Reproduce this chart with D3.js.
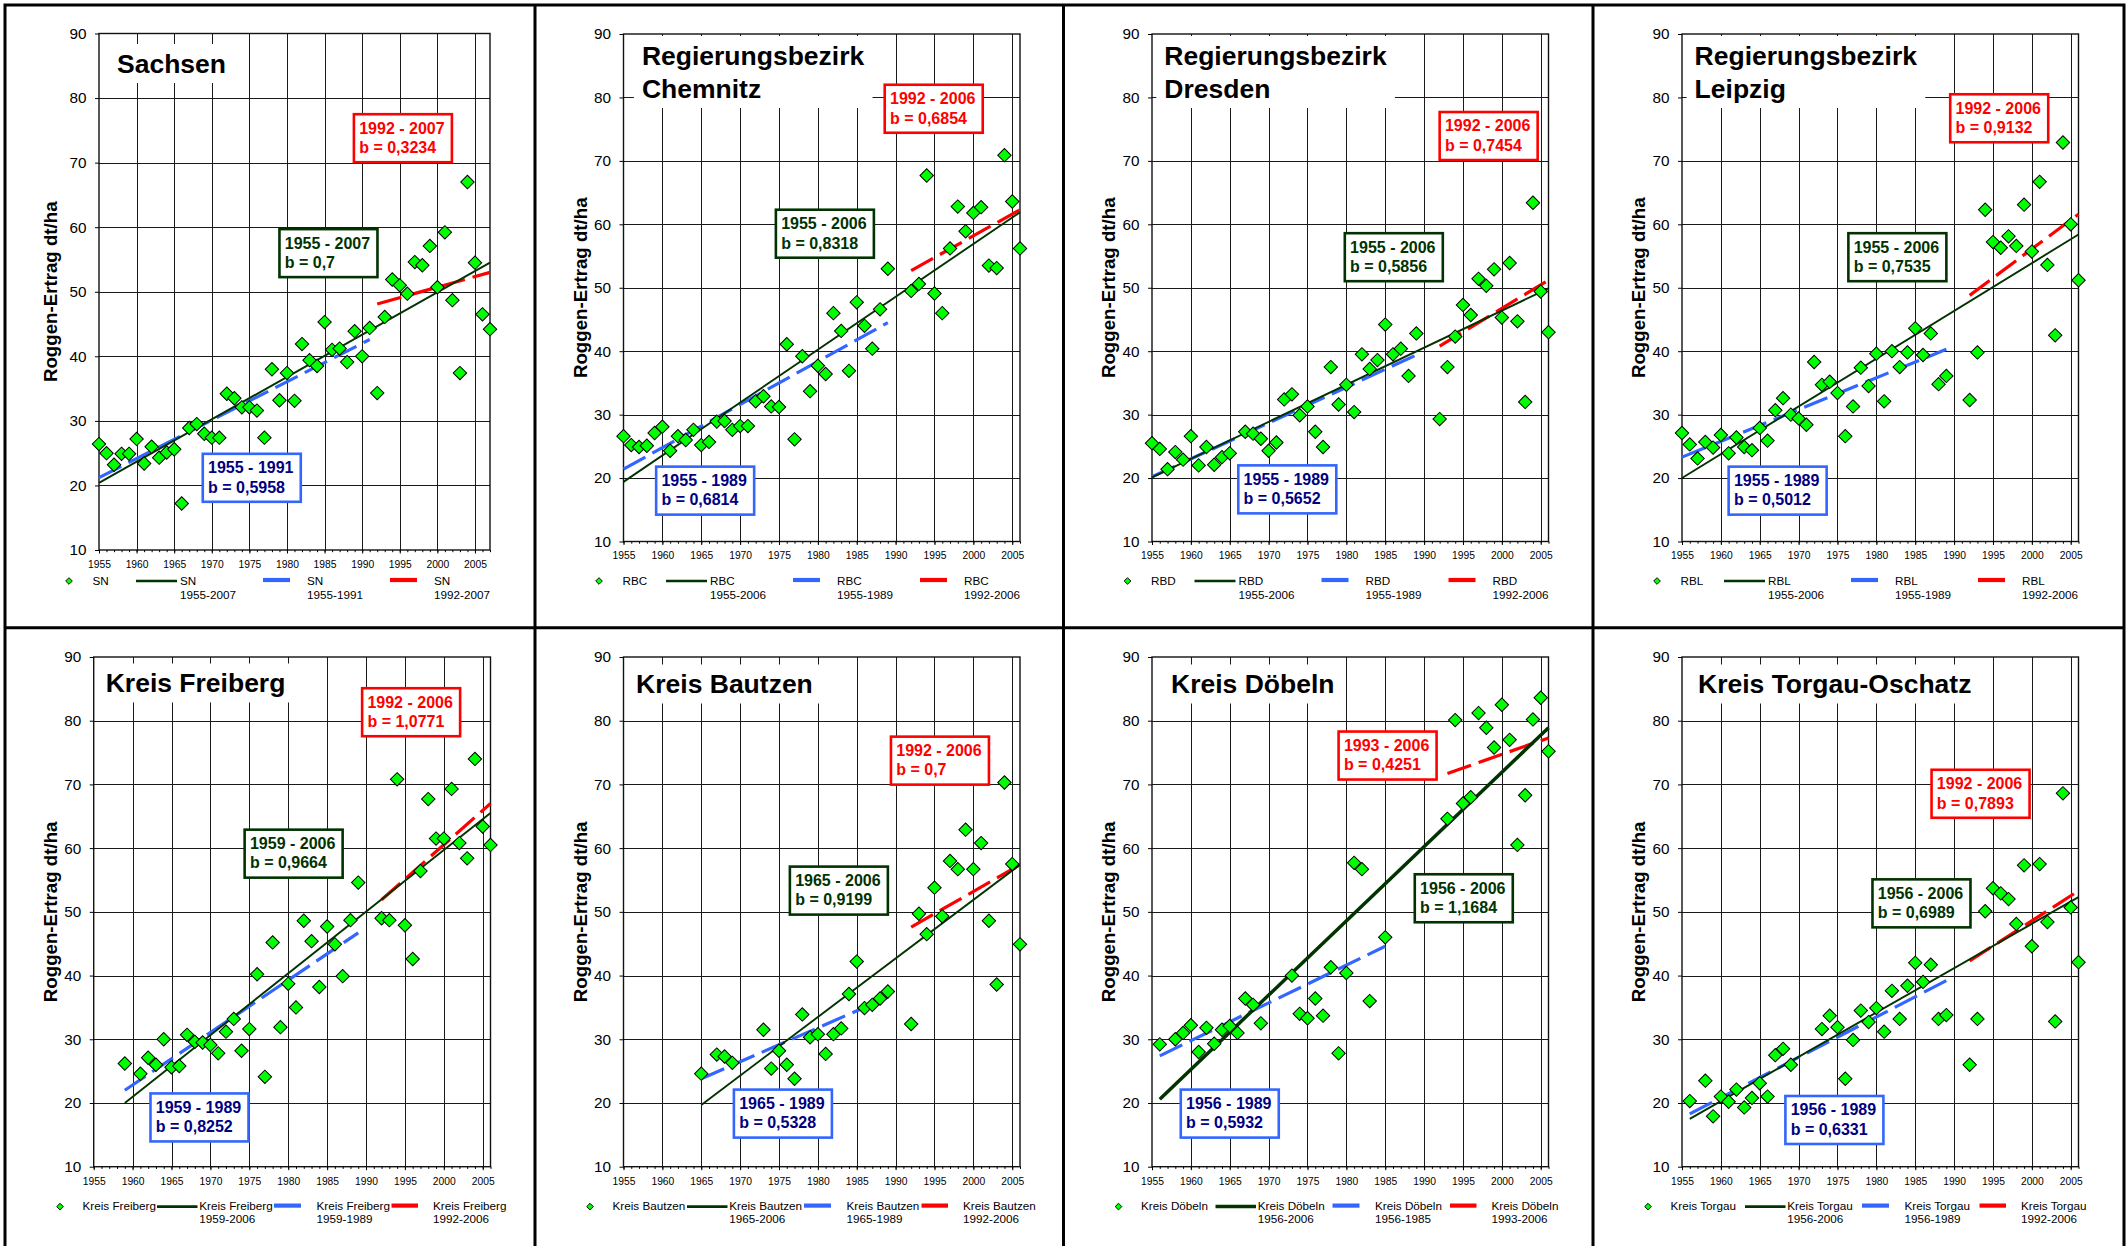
<!DOCTYPE html>
<html>
<head>
<meta charset="utf-8">
<script src="https://cdn.jsdelivr.net/npm/d3@7"></script>
<style>
  body { margin: 0; background: #fff; }
  svg { display: block; }
  text { font-family: "Liberation Sans", Arial, sans-serif; }
</style>
</head>
<body>
<div id="chart"></div>
<script>
// years 1955..2007, null = no value that year
const years = [1955, 1956, 1957, 1958, 1959, 1960, 1961, 1962, 1963, 1964,
  1965, 1966, 1967, 1968, 1969, 1970, 1971, 1972, 1973, 1974,
  1975, 1976, 1977, 1978, 1979, 1980, 1981, 1982, 1983, 1984,
  1985, 1986, 1987, 1988, 1989, 1990, 1991, 1992, 1993, 1994,
  1995, 1996, 1997, 1998, 1999, 2000, 2001, 2002, 2003, 2004,
  2005, 2006, 2007];

const ySN = [26.4, 25.0, 23.2, 24.9, 24.9, 27.2, 23.4, 26.0, 24.3, 25.1,
  25.6, 17.2, 28.9, 29.5, 28.0, 27.4, 27.4, 34.2, 33.5, 32.1,
  32.1, 31.6, 27.4, 38.0, 33.2, 37.4, 33.1, 41.9, 39.4, 38.5,
  45.3, 41.0, 41.2, 39.1, 43.9, 40.0, 44.4, 34.3, 46.1, 51.9,
  51.0, 49.7, 54.6, 54.1, 57.1, 50.7, 59.2, 48.7, 37.4, 67.0,
  54.5, 46.5, 44.2];
const yRBC = [26.6, 25.2, 24.9, 25.1, 27.1, 28.1, 24.3, 26.6, 26.0, 27.6,
  25.2, 25.7, 28.9, 29.0, 27.6, 28.2, 28.2, 32.1, 32.9, 31.3,
  31.2, 41.1, 26.1, 39.2, 33.7, 37.7, 36.4, 46.0, 43.2, 36.9,
  47.7, 44.0, 40.4, 46.6, 53.0, null, null, 49.5, 50.6, 67.7,
  49.1, 46.0, 56.2, 62.8, 58.9, 61.8, 62.7, 53.5, 53.1, 70.9,
  63.6, 56.2, null];
const yRBD = [25.5, 24.6, 21.4, 24.1, 22.9, 26.6, 22.0, 24.9, 22.1, 23.3,
  23.9, null, 27.3, 27.0, 26.2, 24.3, 25.6, 32.4, 33.2, 29.9,
  31.3, 27.3, 24.9, 37.5, 31.6, 34.7, 30.4, 39.5, 37.2, 38.6,
  44.2, 39.5, 40.4, 36.1, 42.8, null, null, 29.3, 37.5, 42.3,
  47.3, 45.7, 51.4, 50.3, 52.9, 45.3, 53.9, 44.7, 32.0, 63.4,
  49.4, 43.0, null];
const yRBL = [27.1, 25.3, 23.1, 25.7, 24.8, 26.8, 23.9, 26.4, 24.9, 24.4,
  27.9, 25.9, 30.7, 32.6, 30.0, 29.4, 28.4, 38.3, 34.7, 35.2,
  33.4, 26.6, 31.3, 37.4, 34.5, 39.6, 32.1, 40.0, 37.5, 39.8,
  43.6, 39.4, 42.8, 34.8, 36.1, null, null, 32.3, 39.8, 62.3,
  57.2, 56.3, 58.1, 56.6, 63.1, 55.7, 66.7, 53.6, 42.5, 72.9,
  60.0, 51.2, null];
const yFreiberg = [null, null, null, null, 26.2, null, 24.6, 27.1, 26.0, 30.0,
  25.6, 25.8, 30.7, 29.6, 29.5, 29.1, 27.8, 31.2, 33.2, 28.2,
  31.6, 40.2, 24.1, 45.2, 31.9, 38.7, 35.0, 48.6, 45.4, 38.2,
  47.7, 44.9, 39.9, 48.7, 54.6, null, null, 49.0, 48.7, 70.8,
  47.9, 42.6, 56.4, 67.7, 61.5, 61.5, 69.3, 60.8, 58.4, 74.0,
  63.4, 60.5, null];
const yBautzen = [null, null, null, null, null, null, null, null, null, null,
  24.6, null, 27.6, 27.3, 26.3, null, null, null, 31.5, 25.4,
  28.2, 26.0, 23.8, 33.9, 30.3, 30.8, 27.7, 30.8, 31.7, 37.1,
  42.2, 34.9, 35.4, 36.4, 37.5, null, null, 32.4, 49.7, 46.5,
  53.8, 49.3, 58.0, 56.7, 62.9, 56.7, 60.8, 48.6, 38.6, 70.3,
  57.5, 44.9, null];
const yDoebeln = [null, 29.2, null, 30.0, 31.0, 32.2, 28.0, 31.8, 29.3, 31.5,
  32.1, 31.0, 36.4, 35.4, 32.5, null, null, null, 40.0, 34.0,
  33.3, 36.4, 33.7, 41.3, 27.8, 40.4, 57.7, 56.7, 36.0, null,
  46.0, null, null, null, null, null, null, null, 64.6, 80.1,
  67.0, 68.0, 81.2, 78.9, 75.8, 82.5, 77.0, 60.5, 68.3, 80.2,
  83.6, 75.2, null];
const yTorgau = [null, 20.3, null, 23.5, 17.9, 21.0, 20.2, 22.1, 19.3, 20.8,
  23.1, 21.0, 27.5, 28.5, 26.0, null, null, null, 31.6, 33.7,
  31.9, 23.8, 29.9, 34.5, 32.7, 34.9, 31.2, 37.6, 33.2, 38.4,
  42.0, 39.0, 41.7, 33.2, 33.8, null, null, 26.0, 33.2, 50.1,
  53.7, 52.9, 52.0, 48.1, 57.3, 44.6, 57.5, 48.4, 32.8, 68.6,
  50.7, 42.1, null];

const series = [ySN, yRBC, yRBD, yRBL, yFreiberg, yBautzen, yDoebeln, yTorgau];
const xEnd = [2007, 2006, 2006, 2006, 2006, 2006, 2006, 2006];

// trend lines: [startYear, startValue, endYear, endValue]
const trendAll = [[1955, 20.4, 2007, 54.5], [1955, 19.4, 2006, 61.9], [1955, 20.1, 2006, 49.9], [1955, 20.0, 2006, 58.4],
  [1959, 20.0, 2006, 65.5], [1965, 19.7, 2006, 57.4], [1956, 20.6, 2006, 78.9], [1956, 17.5, 2006, 52.3]];
const trendOld = [[1955, 21.2, 1991, 42.6], [1955, 21.4, 1989, 44.5], [1955, 20.2, 1989, 39.4], [1955, 23.3, 1989, 40.3],
  [1959, 22.0, 1989, 46.7], [1965, 23.8, 1989, 36.6], [1956, 27.4, 1985, 44.6], [1956, 18.3, 1989, 39.2]];
const trendNew = [[1992, 48.1, 2007, 53.0], [1992, 52.7, 2006, 62.3], [1992, 40.8, 2006, 51.2], [1992, 48.8, 2006, 61.6],
  [1992, 51.9, 2006, 67.0], [1992, 47.6, 2006, 57.4], [1993, 71.7, 2006, 77.3], [1992, 42.3, 2006, 53.3]];

const titles = [["Sachsen"], ["Regierungsbezirk", "Chemnitz"], ["Regierungsbezirk", "Dresden"], ["Regierungsbezirk", "Leipzig"],
  ["Kreis Freiberg"], ["Kreis Bautzen"], ["Kreis Döbeln"], ["Kreis Torgau-Oschatz"]];
const names = ["SN", "RBC", "RBD", "RBL", "Kreis Freiberg", "Kreis Bautzen", "Kreis Döbeln", "Kreis Torgau"];

const periodAll = ["1955 - 2007", "1955 - 2006", "1955 - 2006", "1955 - 2006", "1959 - 2006", "1965 - 2006", "1956 - 2006", "1956 - 2006"];
const slopeAll = ["0,7", "0,8318", "0,5856", "0,7535", "0,9664", "0,9199", "1,1684", "0,6989"];
const periodOld = ["1955 - 1991", "1955 - 1989", "1955 - 1989", "1955 - 1989", "1959 - 1989", "1965 - 1989", "1956 - 1989", "1956 - 1989"];
const slopeOld = ["0,5958", "0,6814", "0,5652", "0,5012", "0,8252", "0,5328", "0,5932", "0,6331"];
const periodNew = ["1992 - 2007", "1992 - 2006", "1992 - 2006", "1992 - 2006", "1992 - 2006", "1992 - 2006", "1993 - 2006", "1992 - 2006"];
const slopeNew = ["0,3234", "0,6854", "0,7454", "0,9132", "1,0771", "0,7", "0,4251", "0,7893"];

const legendAll = ["1955-2007", "1955-2006", "1955-2006", "1955-2006", "1959-2006", "1965-2006", "1956-2006", "1956-2006"];
const legendOld = ["1955-1991", "1955-1989", "1955-1989", "1955-1989", "1959-1989", "1965-1989", "1956-1985", "1956-1989"];
const legendNew = ["1992-2007", "1992-2006", "1992-2006", "1992-2006", "1992-2006", "1992-2006", "1993-2006", "1992-2006"];

const yearTicks = [1955, 1960, 1965, 1970, 1975, 1980, 1985, 1990, 1995, 2000, 2005];
const valueTicks = [10, 20, 30, 40, 50, 60, 70, 80, 90];

// ---- layout (pixels) ----
const W = 2127, H = 1246;
const frameX = [5, 535, 1063.5, 1593];
const frameY = [5, 627.7];
const plots = [
  {x0: 99, x1: 490, y0: 33.5, y1: 550},
  {x0: 623.5, x1: 1020, y0: 34, y1: 541.5},
  {x0: 1152, x1: 1548.5, y0: 34, y1: 541.5},
  {x0: 1682, x1: 2078.5, y0: 34, y1: 541.5},
  {x0: 93.7, x1: 490.5, y0: 657, y1: 1166.7},
  {x0: 623.5, x1: 1020, y0: 657, y1: 1166.7},
  {x0: 1152, x1: 1548.5, y0: 657, y1: 1166.7},
  {x0: 1682, x1: 2078.5, y0: 657, y1: 1166.7}
];
const titleDx = [18, 18.4, 12.3, 12.6, 12, 12.6, 19, 16];
const titleDy = [39, 30.5, 30.5, 30.5, 35, 36, 36, 36];
// box top-left corners in data units [year, value]: green, red, blue
const boxPos = [
  [[1979.0, 59.7], [1988.9, 77.5], [1968.8, 24.9]],
  [[1974.6, 62.3], [1988.6, 82.0], [1959.2, 21.8]],
  [[1979.8, 58.6], [1992.0, 77.7], [1966.1, 22.0]],
  [[1976.4, 58.6], [1989.5, 80.5], [1961.0, 21.8]],
  [[1974.4, 62.9], [1989.5, 85.1], [1962.3, 21.5]],
  [[1976.4, 57.1], [1989.4, 77.5], [1969.2, 22.1]],
  [[1988.8, 55.9], [1979.0, 78.3], [1958.7, 22.1]],
  [[1979.5, 55.1], [1987.1, 72.3], [1968.3, 21.1]]
];
// legend x offsets from frame left: marker, name, green line, green text, blue line, blue text, red line, red text
const legRow = [
  {dia: 64, name: 87.5, g: [131, 172], gt: 175, b: [258, 285], bt: 302, r: [385, 412], rt: 429, ly: 576, t1: 580.4, t2: 593.7},
  {dia: 55, name: 77.5, g: [152, 192.5], gt: 194.3, b: [269, 296], bt: 311.5, r: [386.5, 413], rt: 428, ly: 578.9, t1: 582.4, t2: 594.8}
];

const GREEN = "#003300", BLUE = "#3366ff", NAVY = "#000080", RED = "#ff0000", PT = "#00ff00";

const svg = d3.select("#chart").append("svg")
  .attr("width", W).attr("height", H)
  .style("background", "#fff");

const diamond = d3.symbol().type(d3.symbolSquare);
const snap = v => Math.round(v) + 0.5;

series.forEach((vals, i) => {
  const P = plots[i];
  const col = i % 4, row = Math.floor(i / 4);
  const fx = frameX[col], fy = frameY[row];
  const x = d3.scaleLinear().domain([1955, xEnd[i]]).range([P.x0, P.x1]);
  const y = d3.scaleLinear().domain([10, 90]).range([P.y1, P.y0]);
  const g = svg.append("g");

  // grid
  g.selectAll(".vg").data(yearTicks.filter(t => t > 1955)).join("line")
    .attr("x1", d => snap(x(d))).attr("x2", d => snap(x(d)))
    .attr("y1", P.y0).attr("y2", P.y1)
    .attr("stroke", "#1a1a1a").attr("stroke-width", 1)
    .attr("shape-rendering", "crispEdges");
  g.selectAll(".hg").data(valueTicks.filter(t => t > 10 && t < 90)).join("line")
    .attr("x1", P.x0).attr("x2", P.x1)
    .attr("y1", d => snap(y(d))).attr("y2", d => snap(y(d)))
    .attr("stroke", "#1a1a1a").attr("stroke-width", 1)
    .attr("shape-rendering", "crispEdges");
  g.append("rect")
    .attr("x", P.x0).attr("y", P.y0)
    .attr("width", P.x1 - P.x0).attr("height", P.y1 - P.y0)
    .attr("fill", "none").attr("stroke", "#111").attr("stroke-width", 1.4);

  // axes
  const yAxis = g.append("g").attr("transform", `translate(${P.x0},0)`)
    .call(d3.axisLeft(y).tickValues(valueTicks).tickSize(4).tickPadding(8.5));
  yAxis.select(".domain").remove();
  yAxis.selectAll("text").attr("font-size", 15.3).attr("fill", "#000")
    .style("font-family", "'Liberation Sans', Arial, sans-serif");
  yAxis.selectAll("line").attr("stroke", "#000");

  const xAxis = g.append("g").attr("transform", `translate(0,${P.y1})`)
    .call(d3.axisBottom(x).tickValues(yearTicks).tickFormat(d3.format("d")).tickSize(3.5).tickPadding(7));
  xAxis.select(".domain").remove();
  xAxis.selectAll("text").attr("font-size", 10.3).attr("fill", "#000")
    .style("font-family", "'Liberation Sans', Arial, sans-serif");
  xAxis.selectAll("line").attr("stroke", "#000");
  const minor = g.append("g").attr("transform", `translate(0,${P.y1})`)
    .call(d3.axisBottom(x).tickValues(years.filter(v => v <= xEnd[i])).tickFormat("").tickSize(2.2));
  minor.select(".domain").remove();
  minor.selectAll("line").attr("stroke", "#000");

  // y title
  g.append("text")
    .attr("transform", `translate(${fx + 45},${(P.y0 + P.y1) / 2}) rotate(-90)`)
    .attr("text-anchor", "middle").attr("dy", "0.35em")
    .attr("font-size", 18.7).attr("font-weight", "bold")
    .text("Roggen-Ertrag dt/ha");

  // panel title with white background
  const tg = g.append("g");
  const tt = tg.append("text")
    .attr("x", P.x0 + titleDx[i]).attr("y", P.y0 + titleDy[i])
    .attr("font-size", 26.5).attr("font-weight", "bold");
  titles[i].forEach((line, k) => {
    tt.append("tspan").attr("x", P.x0 + titleDx[i]).attr("dy", k === 0 ? 0 : 33).text(line);
  });
  const bb = tt.node().getBBox();
  tg.insert("rect", "text")
    .attr("x", bb.x - 8).attr("y", bb.y - 4.5)
    .attr("width", bb.width + 16).attr("height", bb.height + 9)
    .attr("fill", "#fff");

  // label boxes
  const boxes = [
    {pos: boxPos[i][0], c: GREEN, tc: GREEN, l1: periodAll[i], l2: "b = " + slopeAll[i]},
    {pos: boxPos[i][1], c: RED, tc: RED, l1: periodNew[i], l2: "b = " + slopeNew[i]},
    {pos: boxPos[i][2], c: BLUE, tc: NAVY, l1: periodOld[i], l2: "b = " + slopeOld[i]}
  ];
  boxes.forEach(b => {
    const bx = x(b.pos[0]), by = y(b.pos[1]);
    g.append("rect").attr("x", bx).attr("y", by).attr("width", 98).attr("height", 48)
      .attr("fill", "#fff").attr("stroke", b.c).attr("stroke-width", 2.6);
    g.append("text").attr("x", bx + 5.3).attr("y", by + 19.4)
      .attr("font-size", 16).attr("font-weight", "bold").attr("fill", b.tc).text(b.l1);
    g.append("text").attr("x", bx + 5.3).attr("y", by + 38.8)
      .attr("font-size", 16).attr("font-weight", "bold").attr("fill", b.tc).text(b.l2);
  });

  // trend lines
  const tl = (t, color, w, dash) => g.append("line")
    .attr("x1", x(t[0])).attr("y1", y(t[1]))
    .attr("x2", x(t[2])).attr("y2", y(t[3]))
    .attr("stroke", color).attr("stroke-width", w)
    .attr("stroke-dasharray", dash);
  const gw = i === 6 ? 3.5 : 1.9;
  tl(trendOld[i], BLUE, 3.2, "25,8");
  tl(trendNew[i], RED, 3.2, "25,8");
  tl(trendAll[i], GREEN, gw, null);

  // points
  const pts = years.map((yr, j) => ({yr, v: vals[j]})).filter(d => d.v !== null);
  g.selectAll(".pt").data(pts).join("path")
    .attr("d", diamond.size(90)())
    .attr("transform", d => `translate(${x(d.yr)},${y(d.v)}) rotate(45)`)
    .attr("fill", PT).attr("stroke", "#000").attr("stroke-width", 1);

  // legend
  const L = legRow[row];
  const ly = fy + L.ly;
  g.append("path").attr("d", diamond.size(22)())
    .attr("transform", `translate(${fx + L.dia},${ly}) rotate(45)`)
    .attr("fill", PT).attr("stroke", "#000").attr("stroke-width", 0.9);
  const lt = (xx, yy, s) => g.append("text").attr("x", fx + xx).attr("y", fy + yy)
    .attr("font-size", 11.7).attr("fill", "#000").text(s);
  lt(L.name, L.t1, names[i]);
  g.append("line").attr("x1", fx + L.g[0]).attr("x2", fx + L.g[1]).attr("y1", ly).attr("y2", ly)
    .attr("stroke", GREEN).attr("stroke-width", i === 6 ? 3.5 : 2.6);
  lt(L.gt, L.t1, names[i]); lt(L.gt, L.t2, legendAll[i]);
  g.append("line").attr("x1", fx + L.b[0]).attr("x2", fx + L.b[1]).attr("y1", ly - 1).attr("y2", ly - 1)
    .attr("stroke", BLUE).attr("stroke-width", 4.2);
  lt(L.bt, L.t1, names[i]); lt(L.bt, L.t2, legendOld[i]);
  g.append("line").attr("x1", fx + L.r[0]).attr("x2", fx + L.r[1]).attr("y1", ly - 1).attr("y2", ly - 1)
    .attr("stroke", RED).attr("stroke-width", 4.2);
  lt(L.rt, L.t1, names[i]); lt(L.rt, L.t2, legendNew[i]);
});

// panel frames
const fr = svg.append("g").attr("stroke", "#000").attr("stroke-width", 3).attr("fill", "none");
fr.append("rect").attr("x", 5).attr("y", 5).attr("width", 2119).attr("height", 1270);
frameX.slice(1).forEach(fx => fr.append("line").attr("x1", fx).attr("x2", fx).attr("y1", 5).attr("y2", H));
fr.append("line").attr("x1", 5).attr("x2", 2124).attr("y1", frameY[1]).attr("y2", frameY[1]);
</script>
</body>
</html>
